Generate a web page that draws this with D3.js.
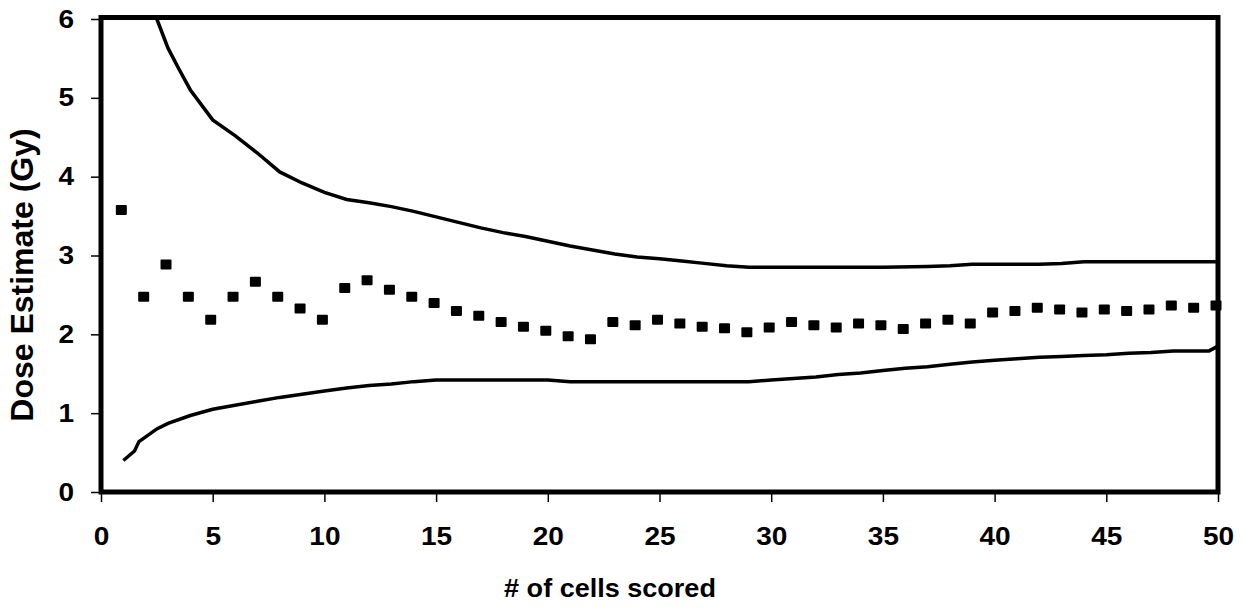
<!DOCTYPE html>
<html>
<head>
<meta charset="UTF-8">
<title>Dose estimate vs cells scored</title>
<script src="https://cdn.jsdelivr.net/npm/d3@7/dist/d3.min.js"></script>
<style>
  body { margin: 0; background: #fff; }
  text { font-family: Arial, "Liberation Sans", sans-serif; font-weight: bold; fill: #000; }
</style>
</head>
<body>
<svg id="chart"></svg>
<script>
// dose estimate per number of cells scored (squares)
var cellsScored = [1,2,3,4,5,6,7,8,9,10,11,12,13,14,15,16,17,18,19,20,21,22,23,24,25,
  26,27,28,29,30,31,32,33,34,35,36,37,38,39,40,41,42,43,44,45,46,47,48,49,50];
var doseEstimate = [3.57,2.47,2.88,2.47,2.18,2.47,2.66,2.47,2.32,2.18,2.58,2.68,2.56,2.47,2.39,
  2.29,2.23,2.15,2.09,2.04,1.97,1.93,2.15,2.11,2.18,2.13,2.09,2.07,2.02,2.08,
  2.15,2.11,2.08,2.13,2.11,2.06,2.13,2.18,2.13,2.27,2.29,2.33,2.31,2.27,2.31,
  2.29,2.31,2.36,2.33,2.36];

// upper confidence limit
var upperX = [2.5,3,3.5,4,5,6,7,8,9,10,11,12,13,14,15,16,17,18,19,20,21,22,23,24,25,26,27,28,29,30,35,37,38,39,42,43,44,50];
var upperY = [6.0,5.63,5.36,5.1,4.72,4.52,4.3,4.06,3.92,3.8,3.71,3.67,3.62,3.56,3.49,3.42,3.35,3.29,3.24,3.18,
  3.12,3.07,3.02,2.98,2.96,2.93,2.9,2.87,2.85,2.85,2.85,2.86,2.87,2.89,2.89,2.9,2.92,2.92];

// lower confidence limit
var lowerX = [1,1.5,1.7,2,2.5,3,4,5,6,7,8,9,10,11,12,13,14,15,20,21,29,30,31,32,33,34,35,36,37,38,39,40,41,42,43,44,45,46,47,48,49,49.6,50];
var lowerY = [0.4,0.52,0.64,0.7,0.8,0.87,0.97,1.05,1.1,1.15,1.2,1.24,1.28,1.32,1.35,1.37,1.4,1.42,1.42,1.4,1.4,
  1.42,1.44,1.46,1.49,1.51,1.54,1.57,1.59,1.62,1.65,1.67,1.69,1.71,1.72,1.73,1.74,1.76,1.77,1.79,1.79,1.79,1.85];

var xTicks = [0,5,10,15,20,25,30,35,40,45,50];
var yTicks = [0,1,2,3,4,5,6];
var xTitle = "# of cells scored";
var yTitle = "Dose Estimate (Gy)";

var width = 1244, height = 607;
var svg = d3.select("#chart").attr("width", width).attr("height", height);

var x = d3.scaleLinear().domain([0, 50]).range([101, 1218]);
var y = d3.scaleLinear().domain([0, 6]).range([492, 19]);

var stretch = 1.12; // text in the original looks a bit wide

// axes (ticks only, frame drawn separately)
var gx = svg.append("g").attr("transform", "translate(0," + y(0) + ")")
  .call(d3.axisBottom(x).tickValues(xTicks).tickSize(10).tickPadding(25).tickFormat(d3.format("d")));
var gy = svg.append("g").attr("transform", "translate(" + x(0) + ",0)")
  .call(d3.axisLeft(y).tickValues(yTicks).tickSize(10).tickPadding(17).tickFormat(d3.format("d")));
svg.selectAll(".domain").remove();
svg.selectAll(".tick line").attr("stroke", "#000").attr("stroke-width", 1.5);
svg.selectAll(".tick text").style("font-size", "25px").attr("fill", "#000")
  .attr("transform", "scale(" + stretch + ",1)");
gy.selectAll(".tick text").attr("x", -27 / stretch);

svg.append("defs").append("clipPath").attr("id", "plot")
  .append("rect").attr("x", x(0)).attr("y", y(6)).attr("width", x(50) - x(0)).attr("height", y(0) - y(6));

var line = d3.line().x(function(d) { return x(d[0]); }).y(function(d) { return y(d[1]); });

svg.append("path").datum(d3.zip(upperX, upperY))
  .attr("d", line).attr("fill", "none").attr("stroke", "#000").attr("stroke-width", 3.5)
  .attr("clip-path", "url(#plot)");
svg.append("path").datum(d3.zip(lowerX, lowerY))
  .attr("d", line).attr("fill", "none").attr("stroke", "#000").attr("stroke-width", 3.5)
  .attr("clip-path", "url(#plot)");

var s = 11;
svg.append("g").selectAll("rect").data(d3.zip(cellsScored, doseEstimate)).enter()
  .append("rect")
  .attr("x", function(d) { return x(d[0]) - s / 2 - 2; })
  .attr("y", function(d) { return y(d[1]) - s / 2; })
  .attr("width", s).attr("height", s - 1).attr("rx", 1)
  .attr("fill", "#000");

// plot frame
svg.append("rect")
  .attr("x", x(0)).attr("y", y(6) - 1.5)
  .attr("width", x(50) - x(0)).attr("height", y(0) - y(6) + 1.5)
  .attr("fill", "none").attr("stroke", "#000").attr("stroke-width", 5);

svg.append("text").attr("transform", "translate(610,597) scale(1.04,1)")
  .attr("text-anchor", "middle").style("font-size", "26px").text(xTitle);

svg.append("text").attr("transform", "translate(33,275) rotate(-90)")
  .attr("text-anchor", "middle").style("font-size", "32px").text(yTitle);
</script>
</body>
</html>
